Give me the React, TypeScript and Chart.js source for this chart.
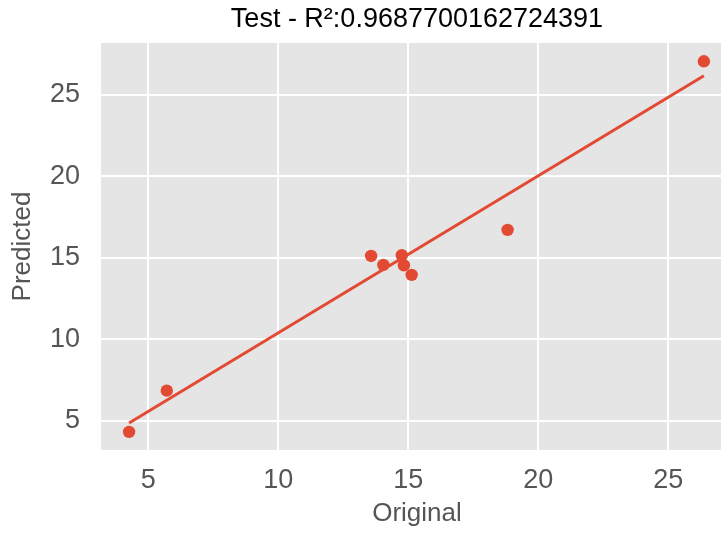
import React, { useEffect, useRef } from "react";
import { Chart, registerables } from "chart.js";

Chart.register(...registerables);

const chartTitle = "Test - R²:0.9687700162724391";
const xAxisLabel = "Original";
const yAxisLabel = "Predicted";

const originalValues = [4.26, 5.71, 13.57, 14.04, 14.75, 14.83, 15.13, 18.82, 26.37];
const predictedValues = [4.31, 6.84, 15.1, 14.55, 15.15, 14.53, 13.94, 16.7, 27.04];

const fitLineX = [4.26, 26.37];
const fitLineY = [4.86, 26.15];

const xTickValues = [5, 10, 15, 20, 25];
const yTickValues = [5, 10, 15, 20, 25];

const RED = "#E24A33";
const FONT = "'Liberation Sans', Arial, sans-serif";

export default function App() {
  const ref = useRef<HTMLCanvasElement>(null);

  useEffect(() => {
    document.body.style.margin = "0";
    const bgPlugin = {
      id: "plotBg",
      beforeDraw(chart: any) {
        const { ctx, chartArea } = chart;
        ctx.save();
        ctx.fillStyle = "#E5E5E5";
        ctx.fillRect(chartArea.left, chartArea.top, chartArea.right - chartArea.left, chartArea.bottom - chartArea.top);
        ctx.restore();
      },
    };

    const chart = new Chart(ref.current as HTMLCanvasElement, {
      type: "scatter",
      data: {
        datasets: [
          {
            type: "line",
            data: fitLineX.map((x, i) => ({ x, y: fitLineY[i] })),
            borderColor: RED,
            backgroundColor: RED,
            borderWidth: 3,
            pointRadius: 0,
            fill: false,
            order: 0,
          } as any,
          {
            type: "scatter",
            data: originalValues.map((x, i) => ({ x, y: predictedValues[i] })),
            backgroundColor: RED,
            borderColor: RED,
            borderWidth: 0,
            pointRadius: 6.2,
            order: 1,
          },
        ],
      },
      options: {
        responsive: false,
        animation: false,
        devicePixelRatio: 1,
        layout: { padding: 0, autoPadding: false },
        plugins: {
          legend: { display: false },
          tooltip: { enabled: false },
          title: {
            display: true,
            text: chartTitle,
            fullSize: false,
            color: "#000000",
            font: { family: FONT, size: 27, weight: "normal", lineHeight: 1.2 },
            padding: { top: 3.5, bottom: 7.1 },
          },
        },
        scales: {
          x: {
            type: "linear",
            min: 3.18,
            max: 27.49,
            afterBuildTicks: (scale: any) => {
              scale.ticks = xTickValues.map((v) => ({ value: v }));
            },
            afterFit: (scale: any) => {
              scale.height = 83;
              scale.paddingLeft = 0;
              scale.paddingRight = 0;
            },
            grid: { color: "#FFFFFF", lineWidth: 2, drawTicks: false },
            border: { display: false },
            ticks: {
              autoSkip: false,
              maxRotation: 0,
              color: "#555555",
              padding: 14,
              font: { family: FONT, size: 27 },
            },
            title: {
              display: true,
              text: xAxisLabel,
              color: "#555555",
              font: { family: FONT, size: 26, lineHeight: 1.2 },
              padding: { top: 0, bottom: 3.4 },
            },
          },
          y: {
            type: "linear",
            min: 3.2,
            max: 28.16,
            afterBuildTicks: (scale: any) => {
              scale.ticks = yTickValues.map((v) => ({ value: v }));
            },
            afterFit: (scale: any) => {
              scale.width = 101;
              scale.paddingTop = 0;
              scale.paddingBottom = 0;
            },
            grid: { color: "#FFFFFF", lineWidth: 2, drawTicks: false },
            border: { display: false },
            ticks: {
              autoSkip: false,
              color: "#555555",
              padding: 21,
              font: { family: FONT, size: 27 },
            },
            title: {
              display: true,
              text: yAxisLabel,
              color: "#555555",
              font: { family: FONT, size: 26, lineHeight: 1.2 },
              padding: { top: 7.4, bottom: 0 },
            },
          },
        },
      },
      plugins: [bgPlugin],
    });
    return () => chart.destroy();
  }, []);

  return (
    <div style={{ width: 721, height: 533, overflow: "hidden" }}>
      <canvas ref={ref} width={733} height={533} style={{ display: "block" }} />
    </div>
  );
}
